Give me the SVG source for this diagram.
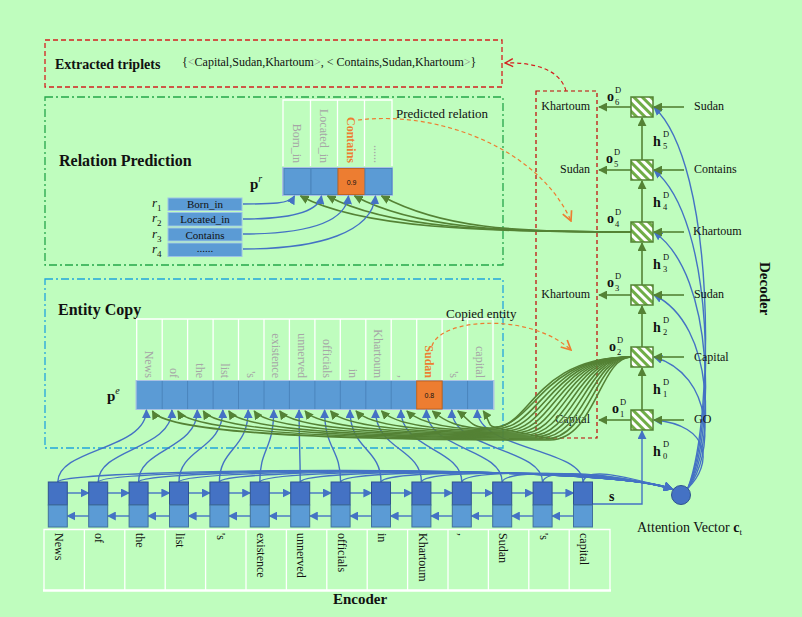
<svg xmlns="http://www.w3.org/2000/svg" width="802" height="617" viewBox="0 0 802 617">
<defs>
<style>
.t{font-family:"Liberation Serif","Times New Roman",serif;fill:#111}
.b{font-weight:bold}
.w12{font-size:12px}
.gl{font-family:"Liberation Serif",serif;font-size:12px;fill:#A6A6A6}
.or{fill:#ED7D31;font-weight:bold}
.bl{fill:none;stroke:#4472C4;stroke-width:1.4}
.gr{fill:none;stroke:#548235;stroke-width:1.6}
.wl{stroke:#fff;stroke-width:1.3;fill:none}
.encT{fill:#4472C4;stroke:#2F528F;stroke-width:1}
.encB{fill:#5B9BD5;stroke:#41719C;stroke-width:1}
.cell{fill:#5B9BD5;stroke:#4A84BC;stroke-width:1}
.dec{fill:url(#hatch);stroke:#548235;stroke-width:1.5}
.sm{font-size:8.5px;font-weight:normal}
</style>
<pattern id="hatch" patternUnits="userSpaceOnUse" width="6" height="6" patternTransform="rotate(-45)">
<rect width="6" height="6" fill="#fff"/><rect width="3" height="6" fill="#70AD47"/>
</pattern>
<marker id="ab" viewBox="0 0 10 10" refX="9" refY="5" markerWidth="9" markerHeight="9" orient="auto" markerUnits="userSpaceOnUse"><path d="M0,0 L10,5 L0,10 z" fill="#4472C4"/></marker>
<marker id="ag" viewBox="0 0 10 10" refX="9" refY="5" markerWidth="9" markerHeight="9" orient="auto" markerUnits="userSpaceOnUse"><path d="M0,0 L10,5 L0,10 z" fill="#548235"/></marker>
<marker id="ao" viewBox="0 0 10 10" refX="9" refY="5" markerWidth="12" markerHeight="12" orient="auto" markerUnits="userSpaceOnUse"><path d="M1,1 L9,5 L1,9" fill="none" stroke="#ED7D31" stroke-width="1.4"/></marker>
<marker id="ar" viewBox="0 0 10 10" refX="9" refY="5" markerWidth="10" markerHeight="10" orient="auto" markerUnits="userSpaceOnUse"><path d="M1,1 L9,5 L1,9" fill="none" stroke="#D42020" stroke-width="1.4"/></marker>
</defs>
<rect width="802" height="617" fill="#BFFDBE"/>

<!-- Extracted triplets -->
<g id="triplets">
<rect x="45" y="40" width="457" height="47" fill="none" stroke="#D42020" stroke-width="1.3" stroke-dasharray="5,3"/>
<text class="t b" x="55" y="69" font-size="14">Extracted triplets</text>
<text class="t" x="182" y="66" font-size="12">{<tspan fill="#8a8a8a">&lt;</tspan>Capital,Sudan,Khartoum<tspan fill="#8a8a8a">&gt;</tspan>, &lt; Contains,Sudan,Khartoum<tspan fill="#8a8a8a">&gt;</tspan>}</text>
</g>

<!-- Relation prediction -->
<g id="relation-prediction">
<rect x="45" y="97" width="458" height="168" fill="none" stroke="#24A64A" stroke-width="1.3" stroke-dasharray="8,3,2,3"/>
<text class="t b" x="59" y="166" font-size="16">Relation Prediction</text>
<text class="t b" x="250" y="189" font-size="15">p<tspan font-style="italic" font-weight="normal" font-size="10" dy="-7">r</tspan></text>
<path class="wl" d="M283,166 V100 H392 V166 M310.5,100 V166 M337.5,100 V166 M364.5,100 V166"/>
<g>
<text class="gl" text-anchor="end" transform="translate(292.5,163) rotate(90)">Born_in</text>
<text class="gl" text-anchor="end" transform="translate(319.5,163) rotate(90)">Located_in</text>
<text class="gl or" text-anchor="end" transform="translate(346.5,163) rotate(90)">Contains</text>
<text class="gl" text-anchor="end" transform="translate(373.5,163) rotate(90)">......</text>
</g>
<rect x="282" y="167" width="111" height="29" fill="#A9C1E3"/>
<rect class="cell" x="284" y="168.5" width="27" height="26"/>
<rect class="cell" x="311" y="168.5" width="27" height="26"/>
<rect x="338" y="168.5" width="27" height="26" fill="#ED7D31" stroke="#C0641F" stroke-width="1"/>
<rect class="cell" x="365" y="168.5" width="27" height="26"/>
<text x="351.5" y="184.5" font-family="Liberation Sans,Arial,sans-serif" font-size="7" text-anchor="middle" fill="#111">0.9</text>
<text class="t" x="396" y="118" font-size="13">Predicted relation</text>
</g>

<g id="relation-list">
<rect x="168" y="198" width="74" height="12.5" fill="#5B9BD5" stroke="#9DC3E6" stroke-width="1"/>
<rect x="168" y="212.5" width="74" height="13.5" fill="#5B9BD5" stroke="#9DC3E6" stroke-width="1"/>
<rect x="168" y="228" width="74" height="13" fill="#5B9BD5" stroke="#9DC3E6" stroke-width="1"/>
<rect x="168" y="243" width="74" height="13.5" fill="#5B9BD5" stroke="#9DC3E6" stroke-width="1"/>
<g class="t" font-size="11" text-anchor="middle">
<text x="205" y="208">Born_in</text>
<text x="205" y="223">Located_in</text>
<text x="205" y="238.5">Contains</text>
<text x="205" y="252">......</text>
</g>
<g class="t" font-size="13" font-style="italic">
<text x="152" y="207">r<tspan font-size="9" font-style="normal" dy="4">1</tspan></text>
<text x="152" y="222">r<tspan font-size="9" font-style="normal" dy="4">2</tspan></text>
<text x="152" y="238">r<tspan font-size="9" font-style="normal" dy="4">3</tspan></text>
<text x="152" y="253">r<tspan font-size="9" font-style="normal" dy="4">4</tspan></text>
</g>
</g>

<!-- Entity copy -->
<g id="entity-copy">
<rect x="45" y="279" width="458" height="169" fill="none" stroke="#22A5DD" stroke-width="1.3" stroke-dasharray="8,3,2,3"/>
<text class="t b" x="58" y="315" font-size="16">Entity Copy</text>
<text class="t b" x="107" y="401" font-size="15">p<tspan font-style="italic" font-weight="normal" font-size="10" dy="-7">e</tspan></text>
<path class="wl" d="M136.7,381 V319 H493 V381 M162.2,319 V381 M187.6,319 V381 M213.1,319 V381 M238.5,319 V381 M264,319 V381 M289.4,319 V381 M314.9,319 V381 M340.3,319 V381 M365.8,319 V381 M391.2,319 V381 M416.7,319 V381 M442.1,319 V381 M467.6,319 V381"/>
<g>
<text class="gl" text-anchor="end" transform="translate(144.9,378) rotate(90)">News</text>
<text class="gl" text-anchor="end" transform="translate(170.4,378) rotate(90)">of</text>
<text class="gl" text-anchor="end" transform="translate(195.8,378) rotate(90)">the</text>
<text class="gl" text-anchor="end" transform="translate(221.3,378) rotate(90)">list</text>
<text class="gl" text-anchor="end" transform="translate(246.7,378) rotate(90)">'s</text>
<text class="gl" text-anchor="end" transform="translate(272.2,378) rotate(90)">existence</text>
<text class="gl" text-anchor="end" transform="translate(297.6,378) rotate(90)">unnerved</text>
<text class="gl" text-anchor="end" transform="translate(323.1,378) rotate(90)">officials</text>
<text class="gl" text-anchor="end" transform="translate(348.5,378) rotate(90)">in</text>
<text class="gl" text-anchor="end" transform="translate(374,378) rotate(90)">Khartoum</text>
<text class="gl" text-anchor="end" transform="translate(399.4,378) rotate(90)">,</text>
<text class="gl or" text-anchor="end" transform="translate(424.9,378) rotate(90)">Sudan</text>
<text class="gl" text-anchor="end" transform="translate(450.3,378) rotate(90)">'s</text>
<text class="gl" text-anchor="end" transform="translate(475.8,378) rotate(90)">capital</text>
</g>
<rect x="135.5" y="380" width="359" height="30" fill="#A9C1E3"/>
<rect x="136.7" y="381" width="356.3" height="28" fill="#5B9BD5"/>
<path d="M162.2,381 V409 M187.6,381 V409 M213.1,381 V409 M238.5,381 V409 M264,381 V409 M289.4,381 V409 M314.9,381 V409 M340.3,381 V409 M365.8,381 V409 M391.2,381 V409 M442.1,381 V409 M467.6,381 V409" stroke="#4A84BC" stroke-width="1"/>
<rect x="416.7" y="381" width="25.4" height="28" fill="#ED7D31" stroke="#C0641F" stroke-width="1"/>
<text x="429.4" y="397.5" font-family="Liberation Sans,Arial,sans-serif" font-size="7" text-anchor="middle" fill="#111">0.8</text>
<text class="t" x="446" y="318" font-size="13">Copied entity</text>
</g>

<!-- Decoder output box -->
<g id="decoder-outputs">
<rect x="536" y="91" width="61" height="347" fill="none" stroke="#C00000" stroke-width="1.2" stroke-dasharray="4,3"/>
<g class="t w12" text-anchor="end">
<text x="590" y="110">Khartoum</text>
<text x="590" y="173">Sudan</text>
<text x="590" y="298">Khartoum</text>
<text x="590" y="423">Capital</text>
</g>
</g>

<!-- Connectors -->
<g id="connectors">
<!-- encoder -> attention bundle -->
<g class="bl" marker-end="url(#ab)">
<path d="M57.8,482 C60.8,468 610,463 672,489"/>
<path d="M98.2,482 C101.2,468 610,463.8 672,489"/>
<path d="M138.6,482 C141.6,468 610,464.6 672,489"/>
<path d="M179,482 C182,468 610,465.4 672,489"/>
<path d="M219.4,482 C222.4,468 610,466.2 672,489"/>
<path d="M259.8,482 C262.8,468 610,467 672,489"/>
<path d="M300.2,482 C303.2,468 610,467.8 672,489"/>
<path d="M340.6,482 C343.6,468 610,468.6 672,489"/>
<path d="M381,482 C384,468 610,469.4 672,489"/>
<path d="M421.4,482 C424.4,468 610,470.2 672,489"/>
<path d="M461.8,482 C464.8,468 610,471 672,489"/>
<path d="M502.2,482 C505.2,468 610,471.8 672,489"/>
<path d="M542.6,482 C545.6,468 610,472.6 672,489"/>
<path d="M583,482 C586,468 615,473.4 672,489"/>
</g>
<!-- encoder -> entity cells -->
<g class="bl" marker-end="url(#ab)">
<path d="M57.8,482 C57.8,448 146.4,450 146.4,410"/>
<path d="M98.2,482 C98.2,448 171.9,450 171.9,410"/>
<path d="M138.6,482 C138.6,448 197.3,450 197.3,410"/>
<path d="M179,482 C179,448 222.8,450 222.8,410"/>
<path d="M219.4,482 C219.4,448 248.2,450 248.2,410"/>
<path d="M259.8,482 C259.8,448 273.7,450 273.7,410"/>
<path d="M300.2,482 C300.2,448 299.1,450 299.1,410"/>
<path d="M340.6,482 C340.6,448 324.6,450 324.6,410"/>
<path d="M381,482 C381,448 350,450 350,410"/>
<path d="M421.4,482 C421.4,448 375.5,450 375.5,410"/>
<path d="M461.8,482 C461.8,448 400.9,450 400.9,410"/>
<path d="M502.2,482 C502.2,448 426.4,450 426.4,410"/>
<path d="M542.6,482 C542.6,448 451.8,450 451.8,410"/>
<path d="M583,482 C583,448 477.3,450 477.3,410"/>
</g>
<!-- decoder o2 -> entity cells -->
<g class="gr" marker-end="url(#ag)">
<path d="M631,357 C600,357 595,440 550,440 C311.4,440 164.4,432 152.4,411"/>
<path d="M631,357 C595,357 590,439 545,439 C324.7,439 189.9,431 177.9,411"/>
<path d="M631,357 C590,357 585,438 540,438 C338,438 215.3,430 203.3,411"/>
<path d="M631,357 C585,357 580,437 535,437 C351.3,437 240.8,429 228.8,411"/>
<path d="M631,357 C580,357 575,436 530,436 C364.5,436 266.2,428 254.2,411"/>
<path d="M631,357 C575,357 570,435 525,435 C377.8,435 291.7,427 279.7,411"/>
<path d="M631,357 C570,357 565,434 520,434 C391.1,434 317.1,426 305.1,411"/>
<path d="M631,357 C565,357 560,433 515,433 C404.4,433 342.6,425 330.6,411"/>
<path d="M631,357 C560,357 555,432 510,432 C417.6,432 368,424 356,411"/>
<path d="M631,357 C555,357 550,431 505,431 C430.9,431 393.5,423 381.5,411"/>
<path d="M631,357 C550,357 545,430 500,430 C444.1,430 418.9,422 406.9,411"/>
<path d="M631,357 C545,357 540,429 495,429 C457.4,429 444.4,421 432.4,411"/>
<path d="M631,357 C540,357 535,428 490,428 C470.7,428 469.8,420 457.8,411"/>
<path d="M631,357 C535,357 530,427 495,427 C488,427 489,419 483.3,411"/>
</g>
<!-- decoder o4 -> relation cells -->
<g class="gr" marker-end="url(#ag)">
<path d="M631,232 C480,232 360.5,228 300.5,196"/>
<path d="M631,232 C490,232 387.5,228 327.5,196"/>
<path d="M631,232 C500,232 414.5,228 354.5,196"/>
<path d="M631,232 C510,232 441.5,228 381.5,196"/>
</g>
<!-- relation list -> relation cells -->
<g class="bl" marker-end="url(#ab)">
<path d="M243,204 C270,204 290,204 294.5,196"/>
<path d="M243,219 C285,219 318,214 321.5,196"/>
<path d="M243,234 C300,234 345,225 348.5,196"/>
<path d="M243,249 C320,249 372,232 375.5,196"/>
</g>
<!-- encoder recurrent arrows -->
<g class="bl" stroke-width="1.3" marker-end="url(#ab)">
<path d="M67.3,493 H88.7"/><path d="M107.7,493 H129.1"/><path d="M148.1,493 H169.5"/><path d="M188.5,493 H209.9"/><path d="M228.9,493 H250.3"/><path d="M269.3,493 H290.7"/><path d="M309.7,493 H331.1"/><path d="M350.1,493 H371.5"/><path d="M390.5,493 H411.9"/><path d="M430.9,493 H452.3"/><path d="M471.3,493 H492.7"/><path d="M511.7,493 H533.1"/><path d="M552.1,493 H573.5"/>
<path d="M88.7,516 H67.3"/><path d="M129.1,516 H107.7"/><path d="M169.5,516 H148.1"/><path d="M209.9,516 H188.5"/><path d="M250.3,516 H228.9"/><path d="M290.7,516 H269.3"/><path d="M331.1,516 H309.7"/><path d="M371.5,516 H350.1"/><path d="M411.9,516 H390.5"/><path d="M452.3,516 H430.9"/><path d="M492.7,516 H471.3"/><path d="M533.1,516 H511.7"/><path d="M573.5,516 H552.1"/>
</g>
<!-- s line -->
<path class="bl" d="M592.5,504 H642 V431" marker-end="url(#ab)"/>
<!-- attention -> decoder -->
<g class="bl" marker-end="url(#ab)">
<path d="M688,488 C712,465 712,425 654,420"/>
<path d="M688,488 C714,455 715,375 654,357"/>
<path d="M688,488 C715,445 716,325 654,295"/>
<path d="M688,488 C715,435 716,275 654,232"/>
<path d="M688,488 C715,425 716,220 654,170"/>
<path d="M688,488 C715,415 716,165 654,107"/>
</g>
<!-- decoder recurrent / io arrows -->
<g class="gr" stroke-width="1.5" marker-end="url(#ag)">
<path d="M642,410 V368"/>
<path d="M642,347 V306"/>
<path d="M642,285 V243"/>
<path d="M642,222 V181"/>
<path d="M642,160 V118"/>
<path d="M684,420 H654"/>
<path d="M684,357 H654"/>
<path d="M684,295 H654"/>
<path d="M684,232 H654"/>
<path d="M684,170 H654"/>
<path d="M684,107 H654"/>
<path d="M631,420 H599"/>
<path d="M631,295 H599"/>
<path d="M631,170 H599"/>
<path d="M631,107 H599"/>
</g>
<!-- dashed annotation arrows -->
<path d="M358,120 C440,110 540,150 571,221" fill="none" stroke="#ED7D31" stroke-width="1.2" stroke-dasharray="4,3" marker-end="url(#ao)"/>
<path d="M432,346 C440,318 530,312 571,350" fill="none" stroke="#ED7D31" stroke-width="1.2" stroke-dasharray="4,3" marker-end="url(#ao)"/>
<path d="M566,91 C560,68 530,62 505,63" fill="none" stroke="#D42020" stroke-width="1.2" stroke-dasharray="4,3" marker-end="url(#ar)"/>
</g>

<!-- Decoder cells -->
<g id="decoder">
<rect class="dec" x="631" y="97" width="22" height="20"/>
<rect class="dec" x="631" y="160" width="22" height="20"/>
<rect class="dec" x="631" y="222" width="22" height="20"/>
<rect class="dec" x="631" y="285" width="22" height="20"/>
<rect class="dec" x="631" y="347" width="22" height="20"/>
<rect class="dec" x="631" y="410" width="22" height="20"/>
<g class="t w12">
<text x="694" y="110">Sudan</text>
<text x="694" y="173">Contains</text>
<text x="693" y="235">Khartoum</text>
<text x="694" y="298">Sudan</text>
<text x="694" y="361">Capital</text>
<text x="694" y="423">GO</text>
</g>
<g class="t b" font-size="14">
<text x="607" y="101">o</text><text class="sm" x="615" y="93">D</text><text class="sm" x="615" y="105">6</text>
<text x="606" y="163">o</text><text class="sm" x="614" y="155">D</text><text class="sm" x="614" y="167">5</text>
<text x="607" y="223">o</text><text class="sm" x="615" y="215">D</text><text class="sm" x="615" y="227">4</text>
<text x="607" y="287">o</text><text class="sm" x="615" y="279">D</text><text class="sm" x="615" y="291">3</text>
<text x="609" y="351">o</text><text class="sm" x="617" y="343">D</text><text class="sm" x="617" y="355">2</text>
<text x="612" y="413">o</text><text class="sm" x="620" y="405">D</text><text class="sm" x="620" y="417">1</text>
<text x="653" y="146">h</text><text class="sm" x="663" y="137">D</text><text class="sm" x="663" y="149">5</text>
<text x="653" y="207">h</text><text class="sm" x="663" y="198">D</text><text class="sm" x="663" y="210">4</text>
<text x="653" y="269">h</text><text class="sm" x="663" y="260">D</text><text class="sm" x="663" y="272">3</text>
<text x="653" y="332">h</text><text class="sm" x="663" y="323">D</text><text class="sm" x="663" y="335">2</text>
<text x="653" y="394">h</text><text class="sm" x="663" y="385">D</text><text class="sm" x="663" y="397">1</text>
<text x="653" y="456">h</text><text class="sm" x="663" y="447">D</text><text class="sm" x="663" y="459">0</text>
</g>
<text class="t b" font-size="15" transform="translate(760,262) rotate(90)">Decoder</text>
</g>

<!-- Attention -->
<g id="attention">
<circle cx="681" cy="495" r="9.5" fill="#4472C4" stroke="#2F528F" stroke-width="1"/>
<text class="t" x="637" y="532" font-size="14">Attention Vector <tspan font-weight="bold">c</tspan><tspan font-size="9" dy="3">t</tspan></text>
<text class="t b" x="609" y="501" font-size="14">s</text>
</g>

<!-- Encoder -->
<g id="encoder">
<g>
<rect class="encT" x="48.3" y="482" width="19" height="23"/><rect class="encB" x="48.3" y="505" width="19" height="22"/>
<rect class="encT" x="88.7" y="482" width="19" height="23"/><rect class="encB" x="88.7" y="505" width="19" height="22"/>
<rect class="encT" x="129.1" y="482" width="19" height="23"/><rect class="encB" x="129.1" y="505" width="19" height="22"/>
<rect class="encT" x="169.5" y="482" width="19" height="23"/><rect class="encB" x="169.5" y="505" width="19" height="22"/>
<rect class="encT" x="209.9" y="482" width="19" height="23"/><rect class="encB" x="209.9" y="505" width="19" height="22"/>
<rect class="encT" x="250.3" y="482" width="19" height="23"/><rect class="encB" x="250.3" y="505" width="19" height="22"/>
<rect class="encT" x="290.7" y="482" width="19" height="23"/><rect class="encB" x="290.7" y="505" width="19" height="22"/>
<rect class="encT" x="331.1" y="482" width="19" height="23"/><rect class="encB" x="331.1" y="505" width="19" height="22"/>
<rect class="encT" x="371.5" y="482" width="19" height="23"/><rect class="encB" x="371.5" y="505" width="19" height="22"/>
<rect class="encT" x="411.9" y="482" width="19" height="23"/><rect class="encB" x="411.9" y="505" width="19" height="22"/>
<rect class="encT" x="452.3" y="482" width="19" height="23"/><rect class="encB" x="452.3" y="505" width="19" height="22"/>
<rect class="encT" x="492.7" y="482" width="19" height="23"/><rect class="encB" x="492.7" y="505" width="19" height="22"/>
<rect class="encT" x="533.1" y="482" width="19" height="23"/><rect class="encB" x="533.1" y="505" width="19" height="22"/>
<rect class="encT" x="573.5" y="482" width="19" height="23"/><rect class="encB" x="573.5" y="505" width="19" height="22"/>
</g>
<path class="wl" d="M44,590 V529.5 H610 V590 M84.4,529.5 V590 M124.8,529.5 V590 M165.2,529.5 V590 M205.6,529.5 V590 M246,529.5 V590 M286.4,529.5 V590 M326.8,529.5 V590 M367.2,529.5 V590 M407.6,529.5 V590 M448,529.5 V590 M488.4,529.5 V590 M528.8,529.5 V590 M569.2,529.5 V590"/>
<line x1="43" y1="590.5" x2="611" y2="590.5" stroke="#fff" stroke-width="2.5"/>
<g class="t w12">
<text transform="translate(55,533) rotate(90)">News</text>
<text transform="translate(95.4,533) rotate(90)">of</text>
<text transform="translate(135.8,533) rotate(90)">the</text>
<text transform="translate(176.2,533) rotate(90)">list</text>
<text transform="translate(216.6,533) rotate(90)">'s</text>
<text transform="translate(257,533) rotate(90)">existence</text>
<text transform="translate(297.4,533) rotate(90)">unnerved</text>
<text transform="translate(337.8,533) rotate(90)">officials</text>
<text transform="translate(378.2,533) rotate(90)">in</text>
<text transform="translate(418.6,533) rotate(90)">Khartoum</text>
<text transform="translate(459,533) rotate(90)">,</text>
<text transform="translate(499.4,533) rotate(90)">Sudan</text>
<text transform="translate(539.8,533) rotate(90)">'s</text>
<text transform="translate(580.2,533) rotate(90)">capital</text>
</g>
<text class="t b" x="333" y="604" font-size="15">Encoder</text>
</g>
</svg>
